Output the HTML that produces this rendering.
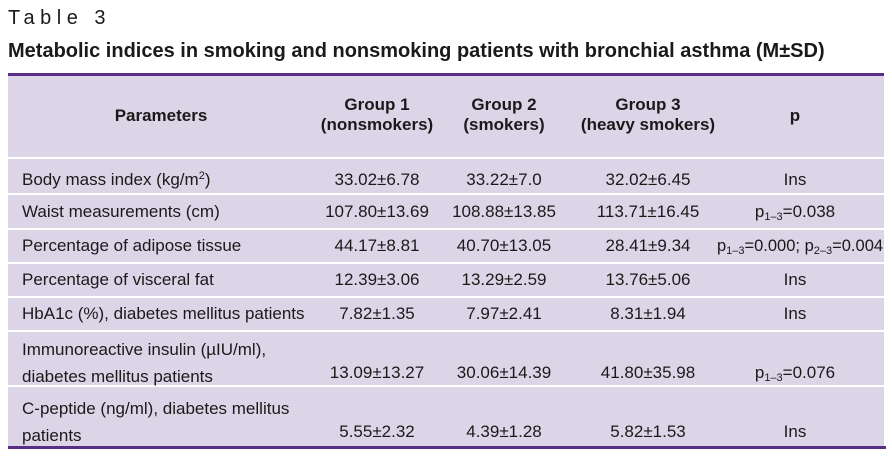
<!DOCTYPE html>
<html><head><meta charset="utf-8"><style>
body{margin:0;width:892px;height:460px;background:#fff;position:relative;overflow:hidden;font-family:"Liberation Sans",sans-serif;color:#1a1a1a}
.t{position:absolute;white-space:nowrap}
.row{position:absolute;left:8px;width:876px;background:#dcd4e7}
.c{position:absolute;font-size:17px;white-space:nowrap;transform:translateX(-50%);text-align:center;line-height:20px}
.l{position:absolute;left:14px;font-size:17px;white-space:nowrap;line-height:20px}
sub{font-size:11px;vertical-align:-3px;line-height:0}
sup{font-size:11px;vertical-align:6px;line-height:0}
</style></head><body>
<div class="t" style="left:8px;top:7px;font-size:20px;letter-spacing:5.5px">Table 3</div>
<div class="t" style="left:8px;top:40px;font-weight:bold;font-size:20px">Metabolic indices in smoking and nonsmoking patients with bronchial asthma (M±SD)</div>
<div style="position:absolute;left:8px;top:73px;width:876px;height:3px;background:#5a2d86"></div>

<div class="row" style="top:76px;height:81px">
<div class="c" style="left:153px;top:30px;font-weight:bold">Parameters</div>
<div class="c" style="left:369px;top:19px;font-weight:bold">Group 1<br>(nonsmokers)</div>
<div class="c" style="left:496px;top:19px;font-weight:bold">Group 2<br>(smokers)</div>
<div class="c" style="left:640px;top:19px;font-weight:bold">Group 3<br>(heavy smokers)</div>
<div class="c" style="left:787px;top:30px;font-weight:bold">p</div>
</div>

<div class="row" style="top:159px;height:34px">
<div class="l" style="top:11px">Body mass index (kg/m<sup>2</sup>)</div>
<div class="c" style="left:369px;top:11px">33.02±6.78</div><div class="c" style="left:496px;top:11px">33.22±7.0</div><div class="c" style="left:640px;top:11px">32.02±6.45</div><div class="c" style="left:787px;top:11px">Ins</div>
</div>
<div class="row" style="top:195px;height:33px">
<div class="l" style="top:7px">Waist measurements (cm)</div>
<div class="c" style="left:369px;top:7px">107.80±13.69</div><div class="c" style="left:496px;top:7px">108.88±13.85</div><div class="c" style="left:640px;top:7px">113.71±16.45</div><div class="c" style="left:787px;top:7px">p<sub>1–3</sub>=0.038</div>
</div>
<div class="row" style="top:230px;height:32px">
<div class="l" style="top:6px">Percentage of adipose tissue</div>
<div class="c" style="left:369px;top:6px">44.17±8.81</div><div class="c" style="left:496px;top:6px">40.70±13.05</div><div class="c" style="left:640px;top:6px">28.41±9.34</div><div class="c" style="left:792px;top:6px;font-size:16.5px">p<sub>1–3</sub>=0.000; p<sub>2–3</sub>=0.004</div>
</div>
<div class="row" style="top:264px;height:32px">
<div class="l" style="top:6px">Percentage of visceral fat</div>
<div class="c" style="left:369px;top:6px">12.39±3.06</div><div class="c" style="left:496px;top:6px">13.29±2.59</div><div class="c" style="left:640px;top:6px">13.76±5.06</div><div class="c" style="left:787px;top:6px">Ins</div>
</div>
<div class="row" style="top:298px;height:32px">
<div class="l" style="top:6px">HbA1c (%), diabetes mellitus patients</div>
<div class="c" style="left:369px;top:6px">7.82±1.35</div><div class="c" style="left:496px;top:6px">7.97±2.41</div><div class="c" style="left:640px;top:6px">8.31±1.94</div><div class="c" style="left:787px;top:6px">Ins</div>
</div>
<div class="row" style="top:332px;height:53px">
<div class="l" style="top:4px;line-height:27px">Immunoreactive insulin (µIU/ml),<br>diabetes mellitus patients</div>
<div class="c" style="left:369px;top:31px">13.09±13.27</div><div class="c" style="left:496px;top:31px">30.06±14.39</div><div class="c" style="left:640px;top:31px">41.80±35.98</div><div class="c" style="left:787px;top:31px">p<sub>1–3</sub>=0.076</div>
</div>
<div class="row" style="top:387px;height:59px">
<div class="l" style="top:8px;line-height:27px">C-peptide (ng/ml), diabetes mellitus<br>patients</div>
<div class="c" style="left:369px;top:35px">5.55±2.32</div><div class="c" style="left:496px;top:35px">4.39±1.28</div><div class="c" style="left:640px;top:35px">5.82±1.53</div><div class="c" style="left:787px;top:35px">Ins</div>
</div>
<div style="position:absolute;left:8px;top:446px;width:878px;height:3px;background:#5a2d86"></div>
</body></html>
